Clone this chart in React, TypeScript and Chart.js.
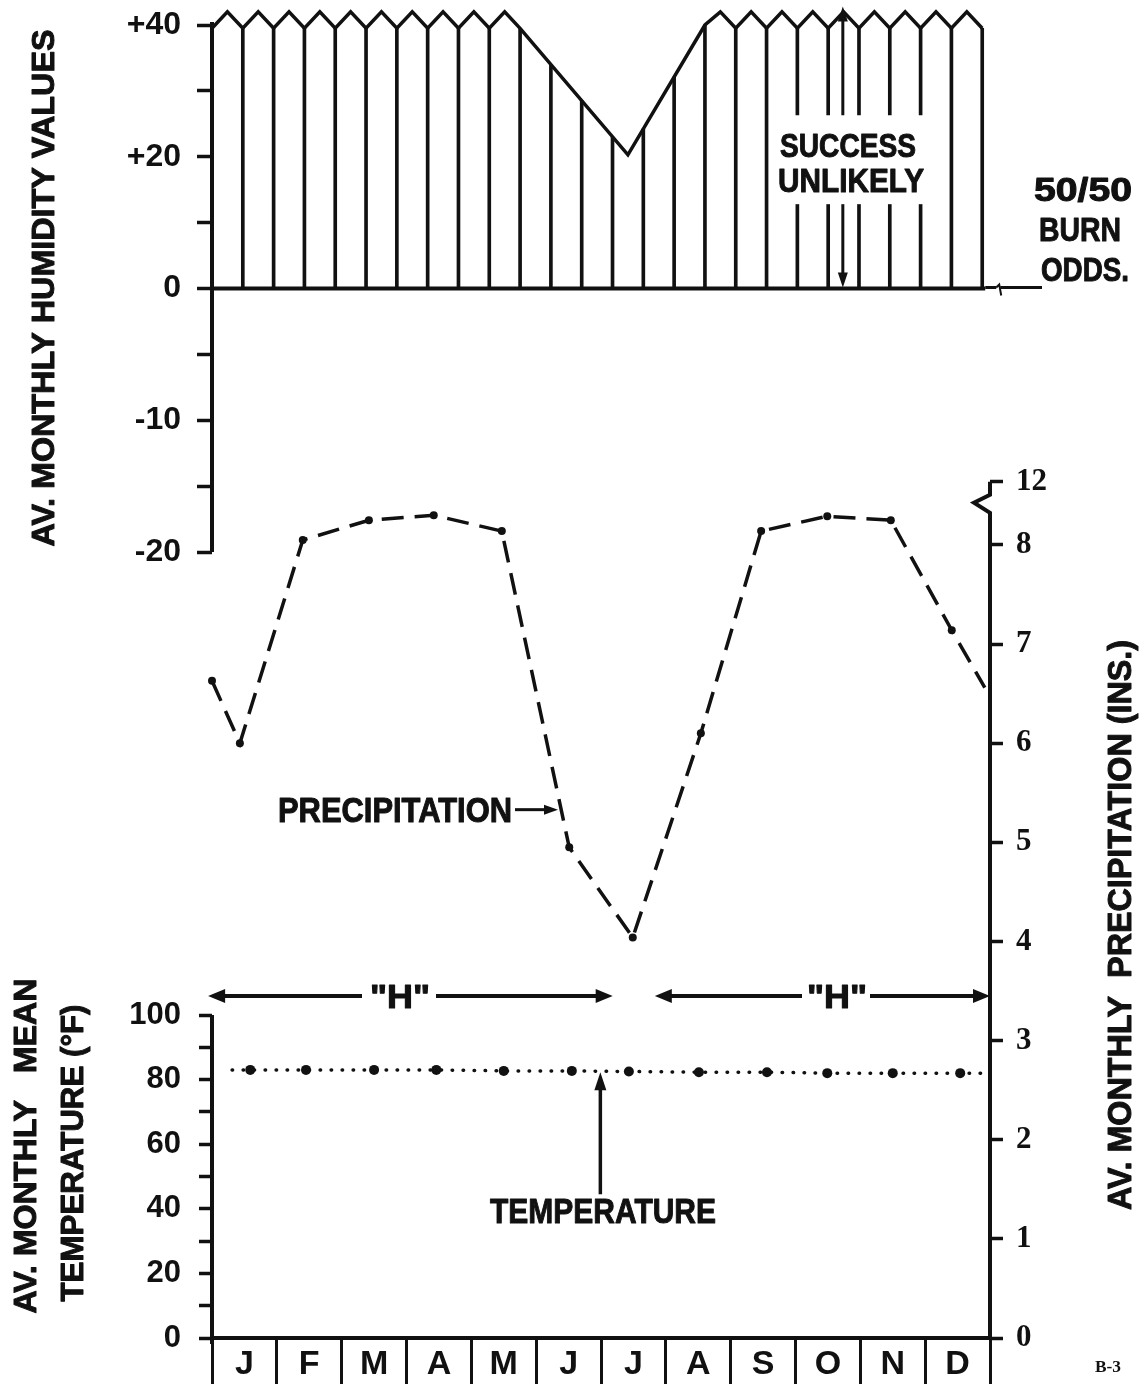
import React, { useEffect, useRef } from 'react';
import { Chart, registerables } from 'chart.js';

Chart.register(...registerables);

// ---------------- data ----------------
const monthLabels = ['J', 'F', 'M', 'A', 'M', 'J', 'J', 'A', 'S', 'O', 'N', 'D'];

// Humidity "fence": 26 pickets spread over the year (heights in humidity units)
const picketHeights = [
  39.5, 39.5, 39.5, 39.5, 39.5, 39.5, 39.5, 39.5, 39.5, 39.5, 39.5,
  34.0, 28.5, 23.0, 24.2, 32.1, 40.0,
  39.5, 39.5, 39.5, 39.5, 39.5, 39.5, 39.5, 39.5, 39.5,
];
// Outline of the fence top: positions in picket-index units, values in humidity units
const fenceOutlinePos = [
  0, 0.5, 1, 1.5, 2, 2.5, 3, 3.5, 4, 4.5, 5, 5.5, 6, 6.5, 7, 7.5, 8, 8.5, 9, 9.5, 10,
  13.5,
  16, 16.5, 17, 17.5, 18, 18.5, 19, 19.5, 20, 20.5, 21, 21.5, 22, 22.5, 23, 23.5, 24, 24.5, 25,
];
const fenceOutlineValues = [
  39.5, 42, 39.5, 42, 39.5, 42, 39.5, 42, 39.5, 42, 39.5, 42, 39.5, 42, 39.5, 42, 39.5, 42, 39.5, 42, 39.5,
  20.3,
  40, 42, 39.5, 42, 39.5, 42, 39.5, 42, 39.5, 42, 39.5, 42, 39.5, 42, 39.5, 42, 39.5, 42, 39.5,
];
const fenceSpanMonths = 11.88;

// Precipitation (inches): position in months from Jan 1, value
const precipPos = [0, 0.43, 1.4, 2.42, 3.42, 4.47, 5.51, 6.49, 7.54, 8.47, 9.49, 10.47, 11.41, 11.92];
const precipValues = [6.63, 6.0, 8.05, 8.25, 8.3, 8.14, 4.95, 4.04, 6.1, 8.14, 8.29, 8.25, 7.14, 6.56];

// Temperature (°F)
const tempPos = [0.31, 0.59, 1.45, 2.5, 3.46, 4.5, 5.55, 6.43, 7.51, 8.56, 9.49, 10.5, 11.54, 11.91];
const tempValues = [83, 83, 83, 83, 83, 82.7, 82.7, 82.5, 82.3, 82.3, 82, 82, 82, 82];

// Axis ticks
const humidityTicks = [40, 30, 20, 10, 0, -5, -10, -15, -20];
const humidityTickLabels = ['+40', '', '+20', '', '0', '', '-10', '', '-20'];
const tempTicks = [0, 10, 20, 30, 40, 50, 60, 70, 80, 90, 100];
const tempTickLabels = ['0', '', '20', '', '40', '', '60', '', '80', '', '100'];
const precipTicks = [0, 1, 2, 3, 4, 5, 6, 7, 8, 12];
const precipTickLabels = ['0', '1', '2', '3', '4', '5', '6', '7', '8', '12'];

// ---------------- layout ----------------
const W = 1148;
const H = 1386;
const AREA = { left: 212, right: 990, top: 4, bottom: 1338 };
const ink = '#111111';
const SANS = '"Liberation Sans", Arial, Helvetica, sans-serif';
const NARROW = '"Liberation Sans Narrow", "Arial Narrow", "Liberation Sans", sans-serif';
const SERIF = '"Liberation Serif", "Times New Roman", serif';

// piecewise axes of the original drawing
const hu = (v: number) => (v >= 0 ? v / 10 : v / 5); // humidity: 10/unit above 0, 5/unit below
const pu = (p: number) => (p <= 8.5 ? p : 8.5 + (p - 8.5) * 0.0394); // precipitation: axis broken above 8.5
const picketMonth = (k: number) => (k * fenceSpanMonths) / (picketHeights.length - 1);

function rangeFor(v1: number, y1: number, v2: number, y2: number) {
  const k = (y1 - y2) / (v2 - v1);
  return { min: v1 - (AREA.bottom - y1) / k, max: v1 + (y1 - AREA.top) / k };
}
const humRange = rangeFor(hu(-20), 552, hu(40), 25);
const tempRange = rangeFor(0, AREA.bottom, 100, 1015);
const precRange = rangeFor(0, AREA.bottom, 8, 545);

const flat = (dim: 'width' | 'height') => (s: any) => {
  s[dim] = 0;
  s.paddingLeft = 0;
  s.paddingRight = 0;
  s.paddingTop = 0;
  s.paddingBottom = 0;
};

function poly(ctx: CanvasRenderingContext2D, pts: number[][], lw: number) {
  ctx.lineWidth = lw;
  ctx.beginPath();
  ctx.moveTo(pts[0][0], pts[0][1]);
  for (let i = 1; i < pts.length; i++) ctx.lineTo(pts[i][0], pts[i][1]);
  ctx.stroke();
}

function arrow(ctx: CanvasRenderingContext2D, x1: number, y1: number, x2: number, y2: number, lw: number, len: number, half: number) {
  const a = Math.atan2(y2 - y1, x2 - x1);
  const c = Math.cos(a);
  const s = Math.sin(a);
  poly(ctx, [[x1, y1], [x2 - (len - 2) * c, y2 - (len - 2) * s]], lw);
  ctx.beginPath();
  ctx.moveTo(x2, y2);
  ctx.lineTo(x2 - len * c + half * s, y2 - len * s - half * c);
  ctx.lineTo(x2 - len * c - half * s, y2 - len * s + half * c);
  ctx.closePath();
  ctx.fill();
}

function fitText(ctx: CanvasRenderingContext2D, text: string, cx: number, cy: number, width: number, size: number, family = SANS, rot = 0, heavy = 1) {
  ctx.save();
  ctx.font = `bold ${size}px ${family}`;
  const w0 = ctx.measureText(text).width;
  ctx.translate(cx, cy);
  ctx.rotate(rot);
  ctx.scale(width / w0, 1);
  ctx.textAlign = 'center';
  ctx.textBaseline = 'alphabetic';
  ctx.fillText(text, 0, size * 0.358);
  if (heavy > 0) {
    ctx.lineWidth = heavy;
    ctx.lineJoin = 'round';
    ctx.strokeText(text, 0, size * 0.358);
  }
  ctx.restore();
}

const annotations = {
  id: 'annotations',
  afterLayout(chart: any) {
    // give the axes their real label boxes (their widths were zeroed so the plot area is fixed)
    const ca = chart.chartArea;
    const s = chart.scales;
    for (const id of ['yH', 'yT']) {
      s[id].left = 0;
      s[id].right = ca.left;
      s[id].width = ca.left;
    }
    s.yP.left = ca.right;
    s.yP.right = chart.width;
    s.yP.width = chart.width - ca.right;
    s.x.top = ca.bottom;
    s.x.bottom = chart.height;
    s.x.height = chart.height - ca.bottom;
  },
  afterDraw(chart: any) {
    const { ctx, chartArea: ca, scales } = chart;
    const x = scales.x;
    const yH = scales.yH;
    const yT = scales.yT;
    const yP = scales.yP;
    const px = (m: number) => x.getPixelForValue(m);
    const hy = (v: number) => yH.getPixelForValue(hu(v));
    const ty = (v: number) => yT.getPixelForValue(v);
    const py = (v: number) => yP.getPixelForValue(pu(v));

    ctx.save();
    ctx.strokeStyle = ink;
    ctx.fillStyle = ink;
    ctx.lineCap = 'butt';
    ctx.lineJoin = 'miter';

    // humidity axis and its zero line
    poly(ctx, [[ca.left, hy(40) - 3], [ca.left, hy(-20)]], 4);
    const y0 = hy(0);
    const fenceEnd = px(fenceSpanMonths);
    poly(ctx, [[ca.left, y0], [fenceEnd + 3, y0]], 4);
    poly(ctx, [[fenceEnd + 3, y0 - 1], [fenceEnd + 14, y0 - 1]], 3);
    poly(ctx, [[fenceEnd + 14, y0 - 1], [fenceEnd + 17, y0 - 4], [fenceEnd + 19, y0 + 7]], 2);
    poly(ctx, [[fenceEnd + 18, y0 - 1], [1042, y0 - 1]], 3);

    // temperature axis
    poly(ctx, [[ca.left, ty(100)], [ca.left, ca.bottom + 6]], 4);

    // precipitation axis with break below 12
    const t12 = py(12);
    poly(ctx, [[ca.right, t12], [ca.right, t12 + 13], [ca.right - 16, t12 + 21], [ca.right, t12 + 31], [ca.right, ca.bottom]], 4);

    // "SUCCESS UNLIKELY" double arrow
    const xa = px(9.73);
    arrow(ctx, xa, hy(20), xa, hy(42.8), 3, 15, 5);
    arrow(ctx, xa, hy(20), xa, hy(0) - 1, 3, 15, 5);
    ctx.fillStyle = '#ffffff';
    ctx.fillRect(px(8.72), hy(26.3), px(11.05) - px(8.72), hy(12.8) - hy(26.3));
    ctx.fillStyle = ink;
    ctx.strokeStyle = ink;
    fitText(ctx, 'SUCCESS', 848, 145, 136, 33);
    fitText(ctx, 'UNLIKELY', 851, 180, 146, 33);

    // 50/50 burn odds
    fitText(ctx, '50/50', 1083, 189, 98, 34);
    fitText(ctx, 'BURN', 1080, 229, 82, 34);
    fitText(ctx, 'ODDS.', 1085, 269, 88, 34);

    // precipitation label and arrow
    fitText(ctx, 'PRECIPITATION', 395, 809, 234, 35);
    arrow(ctx, 515, py(5.33), 558, py(5.33), 3, 14, 5);

    // temperature label and arrow
    fitText(ctx, 'TEMPERATURE', 603, 1210, 226, 35);
    arrow(ctx, px(5.99), ty(44.5), px(5.99), ty(82.3), 3.5, 18, 6);

    // "H" ranges
    const yh = ty(105.9);
    fitText(ctx, '"H"', 400, yh, 60, 33);
    fitText(ctx, '"H"', 837, yh, 60, 33);
    arrow(ctx, 362, yh, px(-0.06), yh, 4, 17, 7);
    arrow(ctx, 436, yh, px(6.18), yh, 4, 17, 7);
    arrow(ctx, 802, yh, px(6.83), yh, 4, 17, 7);
    arrow(ctx, 870, yh, px(12), yh, 4, 17, 7);

    // axis titles
    const up = -Math.PI / 2;
    fitText(ctx, 'AV. MONTHLY HUMIDITY VALUES', 43, 288, 517, 32, SANS, up);
    fitText(ctx, 'AV. MONTHLY   MEAN', 25, 1146, 335, 32, SANS, up);
    fitText(ctx, 'TEMPERATURE (°F)', 72, 1153, 297, 32, SANS, up);
    fitText(ctx, 'AV. MONTHLY  PRECIPITATION (INS.)', 1119, 925, 570, 33, SANS, up);

    // plate number
    fitText(ctx, 'B-3', 1108, 1366, 26, 16, SERIF, 0, 0);
    ctx.restore();
  },
};

export default function App() {
  const ref = useRef<HTMLCanvasElement | null>(null);

  useEffect(() => {
    const canvas = ref.current;
    if (!canvas) return;

    const config: any = {
      type: 'line',
      data: {
        datasets: [
          {
            type: 'line',
            label: 'Humidity fence outline',
            xAxisID: 'x',
            yAxisID: 'yH',
            data: fenceOutlinePos.map((p, i) => ({ x: picketMonth(p), y: hu(fenceOutlineValues[i]) })),
            borderColor: ink,
            borderWidth: 3.5,
            borderJoinStyle: 'miter',
            pointRadius: 0,
            tension: 0,
            clip: false,
          },
          {
            type: 'bar',
            label: 'Humidity pickets',
            xAxisID: 'x',
            yAxisID: 'yH',
            data: picketHeights.map((h, k) => ({ x: picketMonth(k), y: hu(h) })),
            backgroundColor: ink,
            borderWidth: 0,
            barThickness: 3,
            clip: false,
          },
          {
            type: 'line',
            label: 'Precipitation',
            xAxisID: 'x',
            yAxisID: 'yP',
            data: precipPos.map((p, i) => ({ x: p, y: pu(precipValues[i]) })),
            borderColor: ink,
            borderWidth: 3.5,
            borderDash: [22, 11],
            pointRadius: (c: any) => (c.dataIndex === precipPos.length - 1 ? 0 : 4),
            pointBackgroundColor: ink,
            pointBorderWidth: 0,
            tension: 0,
            clip: false,
          },
          {
            type: 'line',
            label: 'Temperature',
            xAxisID: 'x',
            yAxisID: 'yT',
            data: tempPos.map((p, i) => ({ x: p, y: tempValues[i] })),
            borderColor: ink,
            borderWidth: 3.5,
            borderDash: [0.5, 10.5],
            borderCapStyle: 'round',
            pointRadius: (c: any) => (c.dataIndex === 0 || c.dataIndex === tempPos.length - 1 ? 0 : 5),
            pointBackgroundColor: ink,
            pointBorderWidth: 0,
            tension: 0,
            clip: false,
          },
        ],
      },
      options: {
        responsive: false,
        maintainAspectRatio: false,
        animation: false,
        devicePixelRatio: 1,
        events: [],
        layout: {
          padding: { left: AREA.left, right: W - AREA.right, top: AREA.top, bottom: H - AREA.bottom },
        },
        plugins: {
          legend: { display: false },
          tooltip: { enabled: false },
          title: { display: false },
        },
        scales: {
          x: {
            type: 'linear',
            position: 'bottom',
            min: 0,
            max: 12,
            offset: false,
            afterFit: flat('height'),
            afterBuildTicks: (s: any) => {
              const t = [];
              for (let i = 0; i <= 24; i++) t.push({ value: i / 2 });
              s.ticks = t;
            },
            ticks: {
              autoSkip: false,
              maxRotation: 0,
              minRotation: 0,
              padding: -40,
              color: ink,
              font: { family: NARROW, size: 34, weight: 'bold' },
              callback: (v: number) => (Number.isInteger(v) ? '' : monthLabels[Math.floor(v)]),
            },
            grid: {
              offset: false,
              drawOnChartArea: false,
              drawTicks: true,
              tickLength: 46,
              tickWidth: 3,
              tickColor: (c: any) => (c.tick && Number.isInteger(c.tick.value) ? ink : 'rgba(0,0,0,0)'),
            },
            border: { display: true, color: ink, width: 4 },
          },
          yH: {
            type: 'linear',
            position: 'left',
            min: humRange.min,
            max: humRange.max,
            afterFit: flat('width'),
            afterBuildTicks: (s: any) => {
              s.ticks = humidityTicks.map((v) => ({ value: hu(v) }));
            },
            ticks: {
              autoSkip: false,
              padding: 16,
              color: ink,
              font: { family: SANS, size: 32, weight: 'bold' },
              callback: (_v: number, i: number) => humidityTickLabels[i],
            },
            grid: { drawOnChartArea: false, tickLength: 15, tickWidth: 3.5, tickColor: ink },
            border: { display: false },
          },
          yT: {
            type: 'linear',
            position: 'left',
            min: tempRange.min,
            max: tempRange.max,
            afterFit: flat('width'),
            afterBuildTicks: (s: any) => {
              s.ticks = tempTicks.map((v) => ({ value: v }));
            },
            ticks: {
              autoSkip: false,
              padding: 18,
              color: ink,
              font: { family: SANS, size: 31, weight: 'bold' },
              callback: (_v: number, i: number) => tempTickLabels[i],
            },
            grid: { drawOnChartArea: false, tickLength: 13, tickWidth: 3.5, tickColor: ink },
            border: { display: false },
          },
          yP: {
            type: 'linear',
            position: 'right',
            min: precRange.min,
            max: precRange.max,
            afterFit: flat('width'),
            afterBuildTicks: (s: any) => {
              s.ticks = precipTicks.map((v) => ({ value: pu(v) }));
            },
            ticks: {
              autoSkip: false,
              padding: 13,
              color: ink,
              font: { family: SERIF, size: 31, weight: 'bold' },
              callback: (_v: number, i: number) => precipTickLabels[i],
            },
            grid: { drawOnChartArea: false, tickLength: 13, tickWidth: 3.5, tickColor: ink },
            border: { display: false },
          },
        },
      },
      plugins: [annotations],
    };

    const chart = new Chart(canvas, config);
    return () => chart.destroy();
  }, []);

  return (
    <div style={{ position: 'absolute', left: 0, top: 0, width: W, height: H, background: '#ffffff' }}>
      <canvas ref={ref} width={W} height={H} style={{ display: 'block', width: W, height: H }} />
    </div>
  );
}
